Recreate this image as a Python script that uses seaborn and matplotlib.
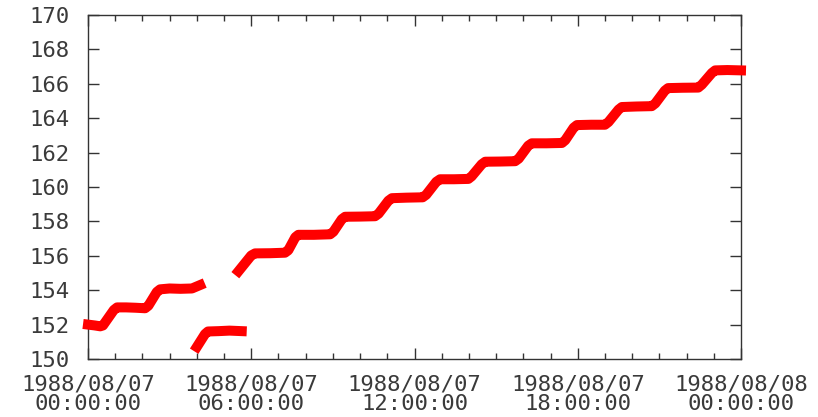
import matplotlib
matplotlib.use("Agg")
import matplotlib.pyplot as plt
from matplotlib.ticker import MultipleLocator, FixedLocator
import numpy as np
import pandas as pd
import seaborn as sns

# Hours since 1988/08/07 00:00:00 and the recorded level, in three runs
run1_hours = [0.00, 0.25, 0.45, 0.55, 0.95, 1.07, 1.40, 1.75, 2.10, 2.22, 2.53, 2.65,
              3.00, 3.40, 3.82, 4.12]
run1_values = [152.0, 151.95, 151.9, 151.95, 152.85, 153.0, 153.0, 152.98, 152.95, 153.1,
               153.9, 154.05, 154.1, 154.08, 154.1, 154.3]

run2_hours = [4.00, 4.30, 4.41, 4.80, 5.20, 5.65]
run2_values = [150.7, 151.45, 151.6, 151.62, 151.65, 151.62]

run3_hours = [5.53, 6.00, 6.14, 6.70, 7.24, 7.36, 7.62, 7.73, 8.30, 8.90,
              9.02, 9.33, 9.45, 10.00, 10.55, 10.68, 11.04, 11.17, 11.70, 12.30,
              12.43, 12.80, 12.94, 13.45, 13.98, 14.10, 14.47, 14.60, 15.15, 15.70,
              15.83, 16.18, 16.31, 16.85, 17.42, 17.54, 17.85, 17.97, 18.50, 19.00,
              19.13, 19.50, 19.62, 20.15, 20.72, 20.85, 21.20, 21.32, 21.85, 22.43,
              22.56, 22.93, 23.05, 23.50, 24.00]
run3_values = [155.1, 156.02, 156.14, 156.15, 156.18, 156.32, 157.08, 157.22, 157.22, 157.25,
               157.4, 158.13, 158.27, 158.28, 158.3, 158.45, 159.2, 159.35, 159.38, 159.4,
               159.55, 160.3, 160.45, 160.45, 160.47, 160.62, 161.32, 161.47, 161.48, 161.5,
               161.65, 162.4, 162.54, 162.54, 162.56, 162.72, 163.45, 163.6, 163.62, 163.62,
               163.78, 164.5, 164.65, 164.68, 164.7, 164.86, 165.6, 165.75, 165.77, 165.78,
               165.95, 166.63, 166.78, 166.8, 166.78]

major_ticks = [0, 6, 12, 18, 24]
major_labels = ["1988/08/07\n00:00:00", "1988/08/07\n06:00:00", "1988/08/07\n12:00:00",
                "1988/08/07\n18:00:00", "1988/08/08\n00:00:00"]

df = pd.concat([
    pd.DataFrame({"hour": run1_hours, "value": run1_values, "run": 1}),
    pd.DataFrame({"hour": run2_hours, "value": run2_values, "run": 2}),
    pd.DataFrame({"hour": run3_hours, "value": run3_values, "run": 3}),
], ignore_index=True)

sns.set_style("ticks")
plt.rcParams["font.family"] = ["DejaVu Sans Mono"]

fig = plt.figure(figsize=(8.18, 4.17), dpi=100)
ax = fig.add_axes([88 / 818, 1 - 359 / 417, (741 - 88) / 818, (359 - 15) / 417])

sns.lineplot(data=df, x="hour", y="value", units="run", estimator=None,
             color="#ff0000", linewidth=7.2, sort=False, ax=ax, legend=False)
for line in ax.get_lines():
    line.set_solid_capstyle("projecting")
    line.set_solid_joinstyle("round")
    line.set_clip_on(False)
    line.set_zorder(5)

ax.set_xlim(0, 24)
ax.set_ylim(150, 170)
ax.xaxis.set_major_locator(FixedLocator(major_ticks))
ax.set_xticklabels(major_labels)
ax.xaxis.set_minor_locator(MultipleLocator(1))
ax.yaxis.set_major_locator(MultipleLocator(2))
ax.set_xlabel("")
ax.set_ylabel("")

edge = "#333333"
for spine in ax.spines.values():
    spine.set_visible(True)
    spine.set_color(edge)
    spine.set_linewidth(1.0)

ax.tick_params(axis="both", which="major", direction="in", length=8, width=1.0,
               color=edge, top=True, right=True, labelsize=16, labelcolor="#3a3a3a")
ax.tick_params(axis="x", which="minor", direction="in", length=4, width=1.0,
               color=edge, top=True, bottom=True)
ax.tick_params(axis="x", which="major", pad=11)
ax.tick_params(axis="y", which="major", pad=13)
for lbl in ax.get_xticklabels():
    lbl.set_linespacing(1.0)

fig.savefig("out.png", dpi=100, facecolor="white")
